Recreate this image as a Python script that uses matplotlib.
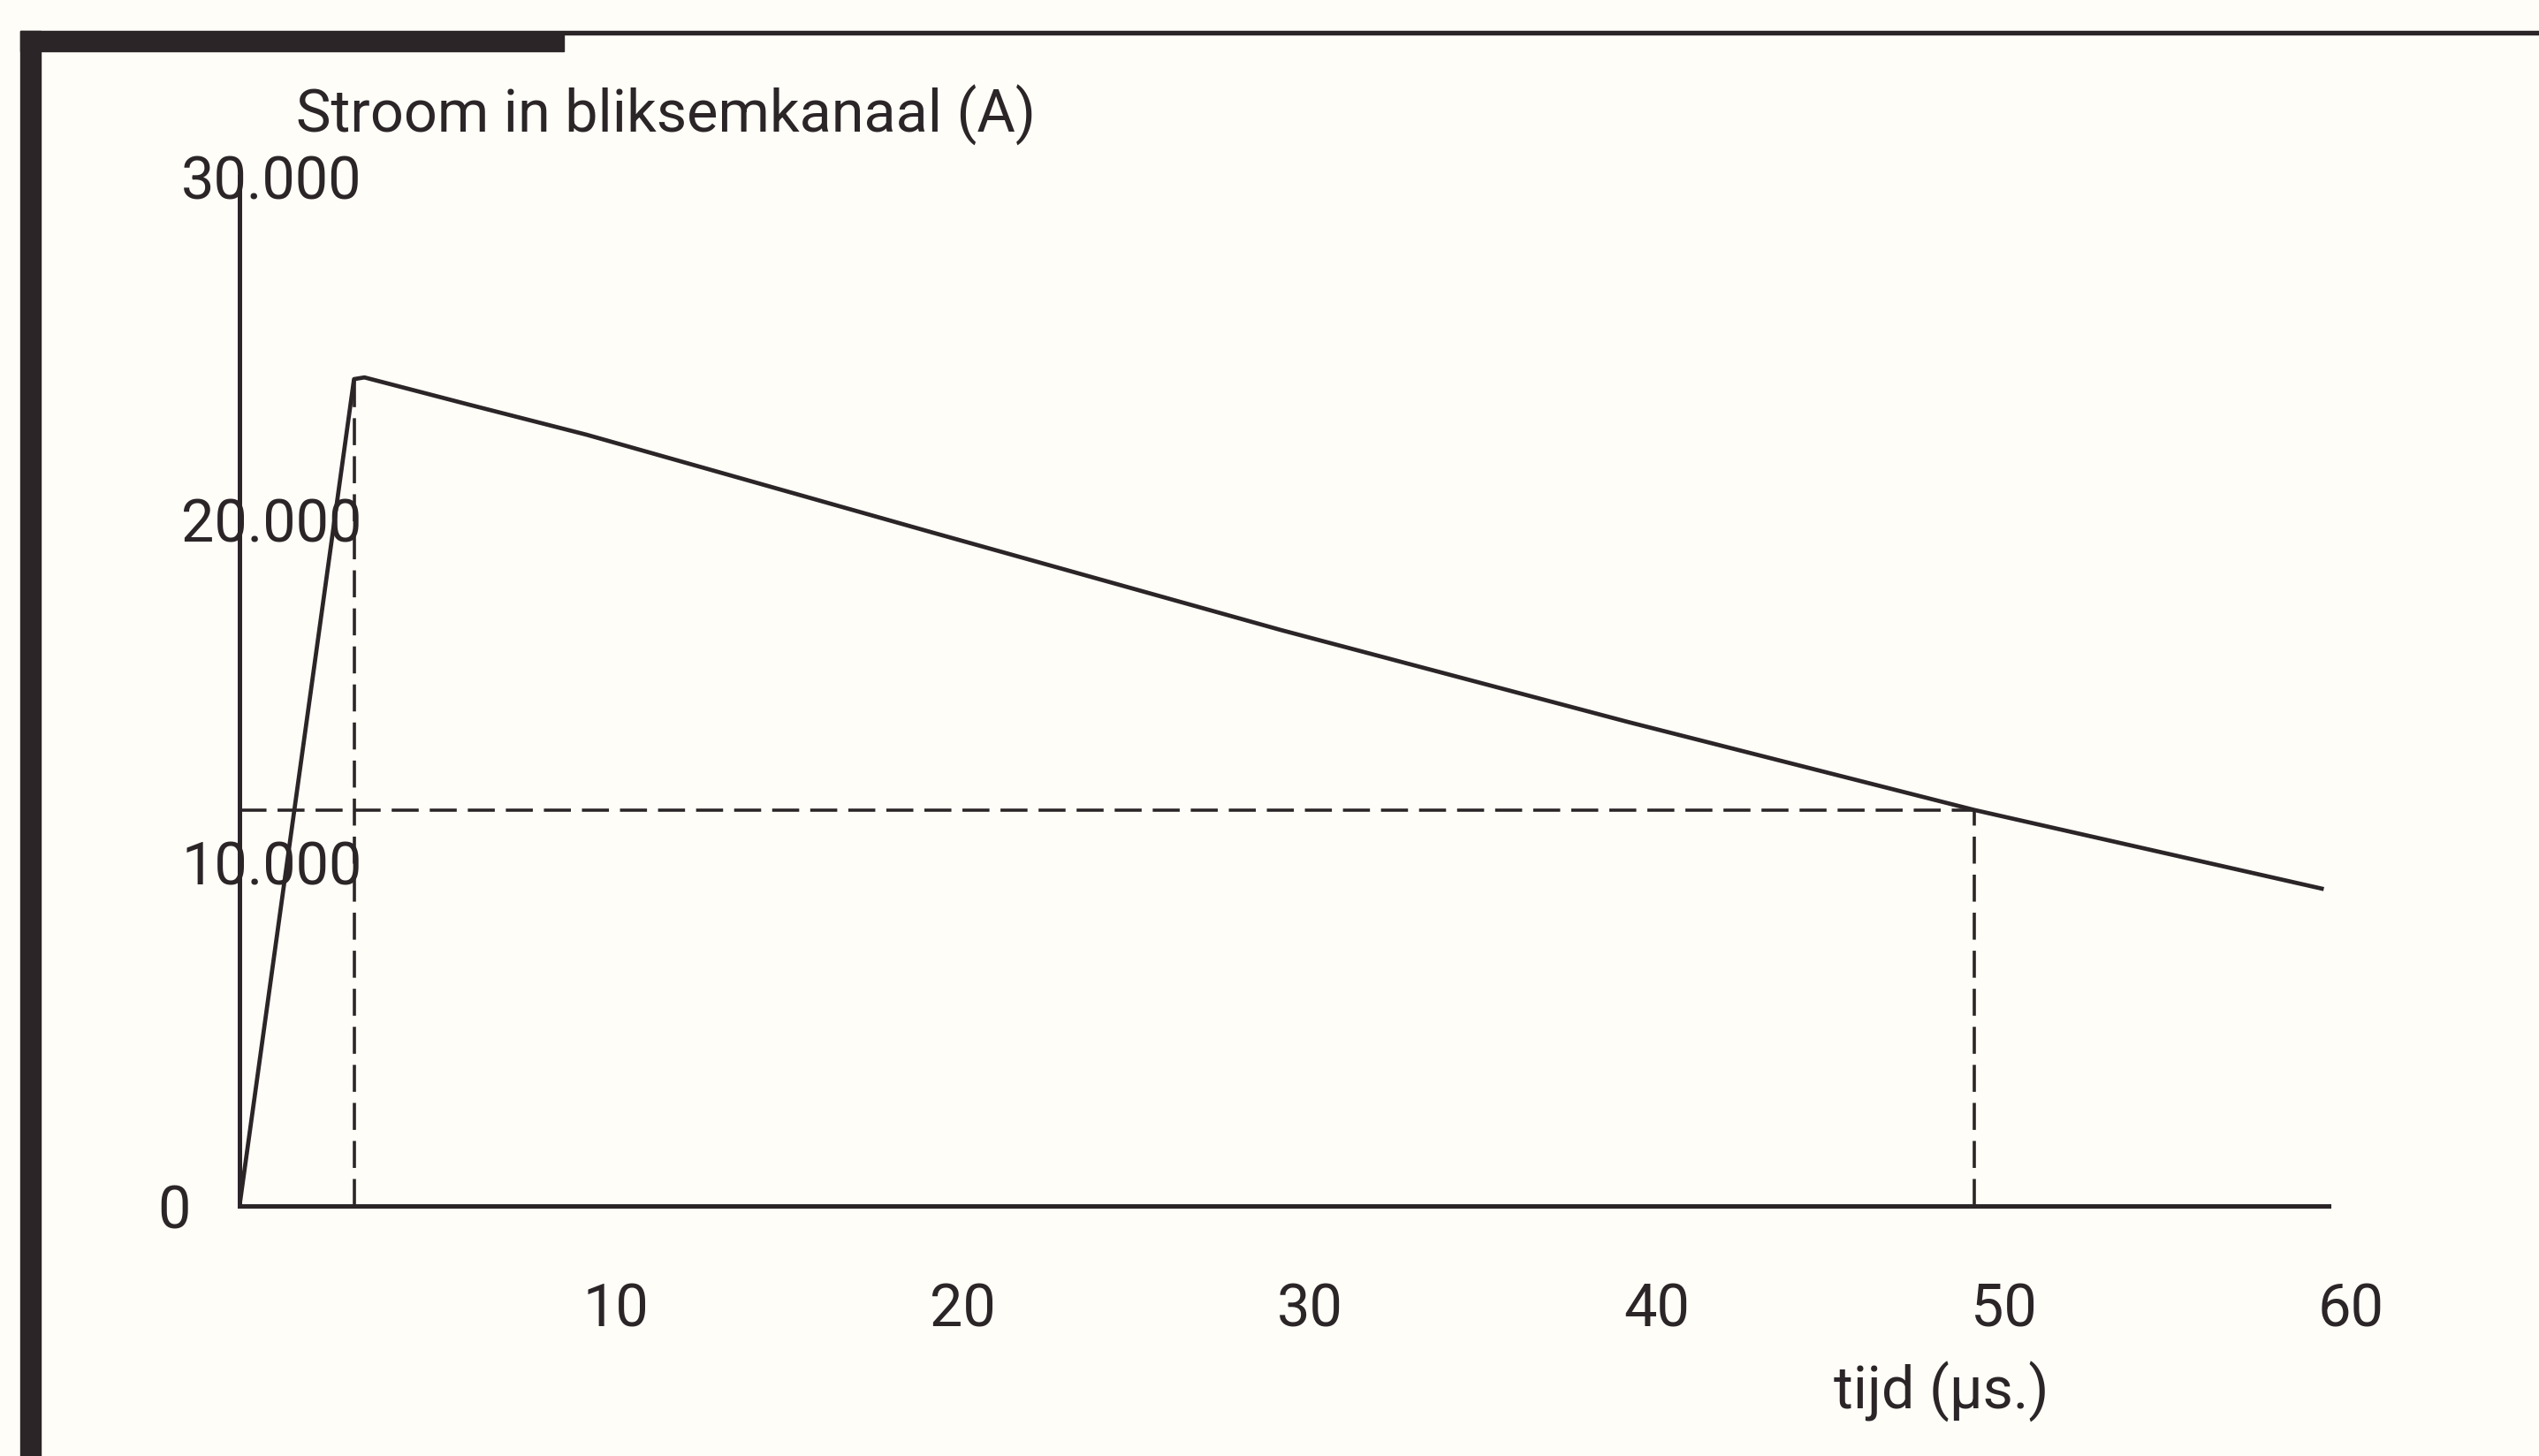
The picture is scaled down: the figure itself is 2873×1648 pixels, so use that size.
import matplotlib
matplotlib.use("Agg")
import matplotlib.pyplot as plt
import matplotlib.transforms as mtransforms
from matplotlib import font_manager
from matplotlib.patches import Rectangle

# waarden
t_us = [0, 3.3, 3.6, 6.6, 10, 20, 30, 40, 50, 60]
stroom_A = [0, 24100, 24150, 23360, 22480, 19620, 16790, 14110, 11540, 9250]

piek_t = 3.3
piek_stroom = 24100
half_t = 50
half_stroom = 11540

x_ticks = [10, 20, 30, 40, 50, 60]
x_tick_labels = ["10", "20", "30", "40", "50", "60"]
y_ticks = [0, 10000, 20000, 30000]
y_tick_labels = ["0", "10.000", "20.000", "30.000"]

available = {f.name for f in font_manager.fontManager.ttflist}
font = "DejaVu Sans"
for name in ["Roboto", "Lato", "Open Sans"]:
    if name in available:
        font = name
        break
plt.rcParams["font.family"] = [font, "DejaVu Sans"]
plt.rcParams["lines.scale_dashes"] = False

ink = "#2b2528"
paper = "#fefdf7"
fs = 48

fig = plt.figure(figsize=(28.73, 16.48), dpi=100, facecolor=paper)
ax = fig.add_axes([0.09433, 0.17172, 0.82283, 0.70692])
ax.set_facecolor(paper)

# kader van de scan
W, H = 2873, 1648
fig.patches.append(Rectangle((23 / W, 0), 23 / W, 1 - 35 / H, transform=fig.transFigure,
                             color=ink, zorder=0))
fig.patches.append(Rectangle((23 / W, 1 - 58 / H), 615 / W, 23 / H, transform=fig.transFigure,
                             color=ink, zorder=0))
fig.patches.append(Rectangle((638 / W, 1 - 39 / H), 1 - 638 / W, 4 / H, transform=fig.transFigure,
                             color=ink, zorder=0))

# stroomverloop
ax.plot(t_us, stroom_A, color=ink, lw=3.4, solid_joinstyle="round", zorder=3)

# hulplijnen
dash = (22, 9)
ax.plot([piek_t, piek_t], [0, piek_stroom], color=ink, lw=2.6, dashes=dash)
ax.plot([0, half_t], [half_stroom, half_stroom], color=ink, lw=2.6, dashes=dash)
ax.plot([half_t, half_t], [0, half_stroom], color=ink, lw=2.6, dashes=dash)

ax.set_xlim(0, 60.2)
ax.set_ylim(0, 30000)
for s in ["top", "right"]:
    ax.spines[s].set_visible(False)
for s in ["left", "bottom"]:
    ax.spines[s].set_color(ink)
    ax.spines[s].set_linewidth(3.6)
ax.set_xticks([])
ax.set_yticks([])

# aslabels
for t, lab in zip(x_ticks, x_tick_labels):
    off = mtransforms.ScaledTranslation(0.33, -0.86, fig.dpi_scale_trans)
    ax.text(t, 0, lab, transform=ax.transData + off, ha="center", va="top",
            fontsize=fs, color=ink)
for v, lab in zip(y_ticks, y_tick_labels):
    dx = -0.93 if v == 0 else -0.66
    off = mtransforms.ScaledTranslation(dx, -0.07, fig.dpi_scale_trans)
    ax.text(0, v, lab, transform=ax.transData + off, ha="left", va="center",
            fontsize=fs, color=ink)

ax.text(0.0272, 1.06, "Stroom in bliksemkanaal (A)", transform=ax.transAxes,
        ha="left", va="center", fontsize=fs, color=ink)
ax.text(0.8146, -0.181, "tijd (\u03bcs.)", transform=ax.transAxes,
        ha="center", va="center", fontsize=fs, color=ink)

fig.savefig("out.png", dpi=100, facecolor=paper)
